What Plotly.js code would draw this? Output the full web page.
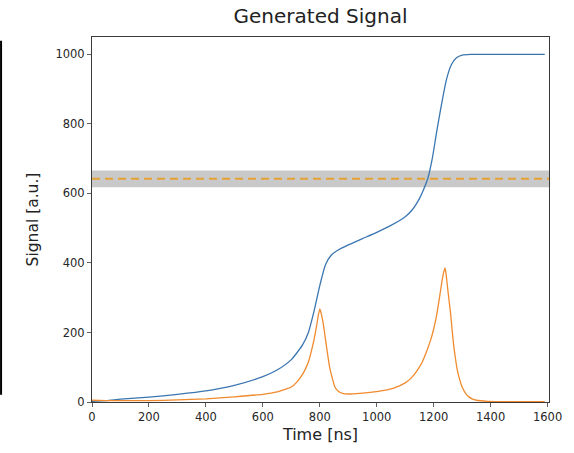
<!DOCTYPE html>
<html>
<head>
<meta charset="utf-8">
<script src="https://cdn.plot.ly/plotly-3.0.1.min.js"></script>
<style>
  html, body { margin: 0; padding: 0; background: #ffffff; }
  #chart { width: 574px; height: 453px; }
</style>
</head>
<body>
<div id="chart"></div>
<script>
// Cumulative signal (blue)
const timeBlue = [0, 50, 100, 200, 300, 400, 500, 600, 650, 700, 740, 760, 780, 800, 820, 840, 860, 900, 950, 1000, 1050, 1100, 1125, 1150, 1165, 1180, 1195, 1210, 1228, 1245, 1262, 1280, 1300, 1330, 1400, 1500, 1590];
const signalBlue = [2, 4, 8, 14, 22, 32, 48, 73, 92, 122, 165, 200, 262, 335, 395, 422, 435, 452, 470, 488, 508, 533, 553, 585, 612, 645, 700, 775, 858, 928, 970, 990, 998, 1000, 1000, 1000, 1000];

// Pulse signal (orange)
const timeOrange = [0, 50, 100, 200, 300, 400, 500, 600, 650, 700, 720, 740, 750, 760, 770, 780, 790, 795, 800, 805, 810, 815, 820, 828, 835, 845, 853, 860, 870, 880, 900, 940, 1000, 1060, 1100, 1120, 1140, 1160, 1175, 1190, 1200, 1210, 1218, 1225, 1230, 1235, 1240, 1244, 1248, 1254, 1260, 1265, 1270, 1276, 1282, 1290, 1300, 1312, 1325, 1335, 1350, 1390, 1500, 1590];
const signalOrange = [5, 4, 4, 4, 6, 9, 15, 22, 29, 43, 58, 80, 96, 115, 145, 180, 225, 250, 268, 255, 235, 210, 180, 135, 98, 65, 43, 35, 28, 25, 23, 25, 30, 40, 55, 68, 88, 115, 145, 180, 210, 248, 288, 325, 352, 373, 386, 365, 335, 292, 250, 205, 165, 128, 96, 68, 43, 25, 14, 9, 5, 2, 1, 1];

// Threshold level and its band
const threshold = 642;
const bandLow = 618;
const bandHigh = 666;

const xTicks = [0, 200, 400, 600, 800, 1000, 1200, 1400, 1600];
const yTicks = [0, 200, 400, 600, 800, 1000];

const traces = [
  {
    x: timeBlue, y: signalBlue, type: 'scatter', mode: 'lines',
    line: { color: '#3b76b0', width: 1.3, shape: 'spline', smoothing: 0.6 },
    hoverinfo: 'skip', showlegend: false
  },
  {
    x: timeOrange, y: signalOrange, type: 'scatter', mode: 'lines',
    line: { color: '#f08a2e', width: 1.3, shape: 'spline', smoothing: 0.4 },
    hoverinfo: 'skip', showlegend: false
  }
];

const axisCommon = {
  showgrid: false, zeroline: false,
  showline: true, mirror: true, linecolor: '#3a3a3a', linewidth: 1,
  ticks: 'outside', ticklen: 4, tickwidth: 0.8, tickcolor: '#3a3a3a',
  tickfont: { family: 'DejaVu Sans', size: 11.5, color: '#262626' }
};

const layout = {
  width: 574, height: 453,
  margin: { l: 92, r: 25, t: 37, b: 51 },
  paper_bgcolor: '#ffffff', plot_bgcolor: '#ffffff',
  font: { family: 'DejaVu Sans', color: '#222222' },
  title: {
    text: 'Generated Signal',
    font: { family: 'DejaVu Sans', size: 20, color: '#222222' },
    x: 0.5, xanchor: 'center', xref: 'paper',
    y: 0.965, yanchor: 'middle'
  },
  xaxis: Object.assign({}, axisCommon, {
    range: [0, 1605], tickvals: xTicks, ticktext: xTicks.map(String),
    title: { text: 'Time [ns]', font: { family: 'DejaVu Sans', size: 16, color: '#222222' }, standoff: 6 }
  }),
  yaxis: Object.assign({}, axisCommon, {
    range: [0, 1050], tickvals: yTicks, ticktext: yTicks.map(String),
    title: { text: 'Signal [a.u.]', font: { family: 'DejaVu Sans', size: 15.5, color: '#222222' }, standoff: 12 }
  }),
  shapes: [
    {
      type: 'rect', xref: 'paper', yref: 'y', x0: 0, x1: 1, y0: bandLow, y1: bandHigh,
      fillcolor: '#c9c9c9', line: { width: 0 }, layer: 'below'
    },
    {
      type: 'line', xref: 'paper', yref: 'y', x0: 0, x1: 1, y0: threshold, y1: threshold,
      line: { color: '#e6a135', width: 2, dash: '8px,5px' }, layer: 'above'
    },
    {
      type: 'line', xref: 'paper', yref: 'paper', x0: -0.199, x1: -0.199, y0: 0.02, y1: 0.99,
      line: { color: '#000000', width: 2 }
    }
  ]
};

Plotly.newPlot('chart', traces, layout, { staticPlot: true, displayModeBar: false });
</script>
</body>
</html>
